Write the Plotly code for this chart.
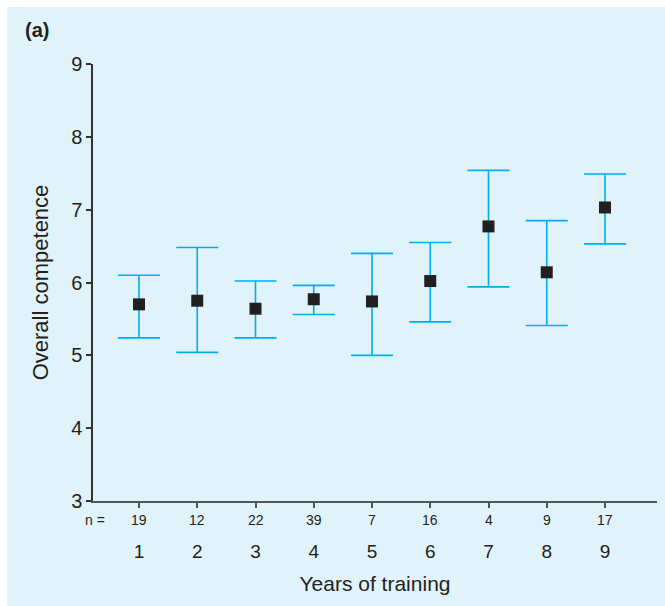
import plotly.graph_objects as go

# Mean overall competence by year of training, with interval bounds
years = [1, 2, 3, 4, 5, 6, 7, 8, 9]
n_counts = [19, 12, 22, 39, 7, 16, 4, 9, 17]
mean_score = [5.70, 5.75, 5.64, 5.77, 5.74, 6.02, 6.77, 6.14, 7.03]
upper_bound = [6.10, 6.48, 6.02, 5.96, 6.40, 6.55, 7.54, 6.85, 7.49]
lower_bound = [5.24, 5.04, 5.24, 5.56, 5.00, 5.46, 5.94, 5.41, 6.53]
y_ticks = [3, 4, 5, 6, 7, 8, 9]

BG = "#E1F3FA"
INK = "#231F20"
CYAN = "#00AEEF"
FONT = "Liberation Sans, Arial, Helvetica, sans-serif"

err_plus = [u - m for u, m in zip(upper_bound, mean_score)]
err_minus = [m - l for m, l in zip(mean_score, lower_bound)]

fig = go.Figure()
fig.add_trace(go.Scatter(
    x=years,
    y=mean_score,
    mode="markers",
    marker=dict(symbol="square", size=12, color=INK, line=dict(width=0)),
    error_y=dict(
        type="data",
        symmetric=False,
        array=err_plus,
        arrayminus=err_minus,
        color=CYAN,
        thickness=1.6,
        width=21,
    ),
    showlegend=False,
))

# Plot area in pixels: x 93..657, y 64..501
L, R, T, B = 93, 8, 64, 105
W, H = 665, 606
pw, ph = W - L - R, H - T - B

annotations = []
for yr, n in zip(years, n_counts):
    annotations.append(dict(
        x=yr, xref="x", y=0, yref="paper", yshift=-19,
        text=str(n), showarrow=False, xanchor="center", yanchor="middle",
        font=dict(size=14, color=INK, family=FONT),
    ))
annotations.append(dict(
    x=(95 - L) / pw, xref="paper", y=0, yref="paper", yshift=-19,
    text="n =", showarrow=False, xanchor="center", yanchor="middle",
    font=dict(size=14, color=INK, family=FONT),
))
annotations.append(dict(
    x=(23 - L) / pw, xref="paper", y=(H - B - 30) / ph, yref="paper",
    text="<b>(a)</b>", showarrow=False, xanchor="left", yanchor="middle",
    font=dict(size=20, color=INK, family=FONT),
))

# White page margin along the top and left edges
shapes = [
    dict(type="rect", xref="paper", yref="paper",
         x0=-L / pw - 0.05, x1=(7 - L) / pw, y0=-B / ph - 0.1, y1=(H - B) / ph + 0.1,
         fillcolor="white", line=dict(width=0), layer="above"),
    dict(type="rect", xref="paper", yref="paper",
         x0=-L / pw - 0.05, x1=1.1, y0=(H - B - 7) / ph, y1=(H - B) / ph + 0.1,
         fillcolor="white", line=dict(width=0), layer="above"),
]

fig.update_layout(
    width=W, height=H,
    margin=dict(l=L, r=R, t=T, b=B, pad=0),
    paper_bgcolor=BG,
    plot_bgcolor=BG,
    font=dict(family=FONT, color=INK),
    annotations=annotations,
    shapes=shapes,
    xaxis=dict(
        range=[1 - 46 / 58.25, 9 + 52 / 58.25],
        tickvals=years,
        ticktext=[str(y) for y in years],
        tickfont=dict(size=19, color=INK, family=FONT),
        ticks="outside", ticklen=5, tickwidth=1.5, tickcolor="#555555",
        ticklabelstandoff=27,
        showline=True, linecolor="#555555", linewidth=1.5,
        showgrid=False, zeroline=False,
        title=dict(text="Years of training", font=dict(size=21, color=INK, family=FONT), standoff=16),
        fixedrange=True,
    ),
    yaxis=dict(
        range=[3, 9],
        tickvals=y_ticks,
        tickfont=dict(size=20, color=INK, family=FONT),
        ticks="outside", ticklen=5, tickwidth=1.5, tickcolor="#333333",
        showline=True, linecolor="#333333", linewidth=1.5,
        showgrid=False, zeroline=False,
        title=dict(text="Overall competence", font=dict(size=22, color=INK, family=FONT), standoff=16),
        fixedrange=True,
    ),
)

fig.write_html("out.html")
